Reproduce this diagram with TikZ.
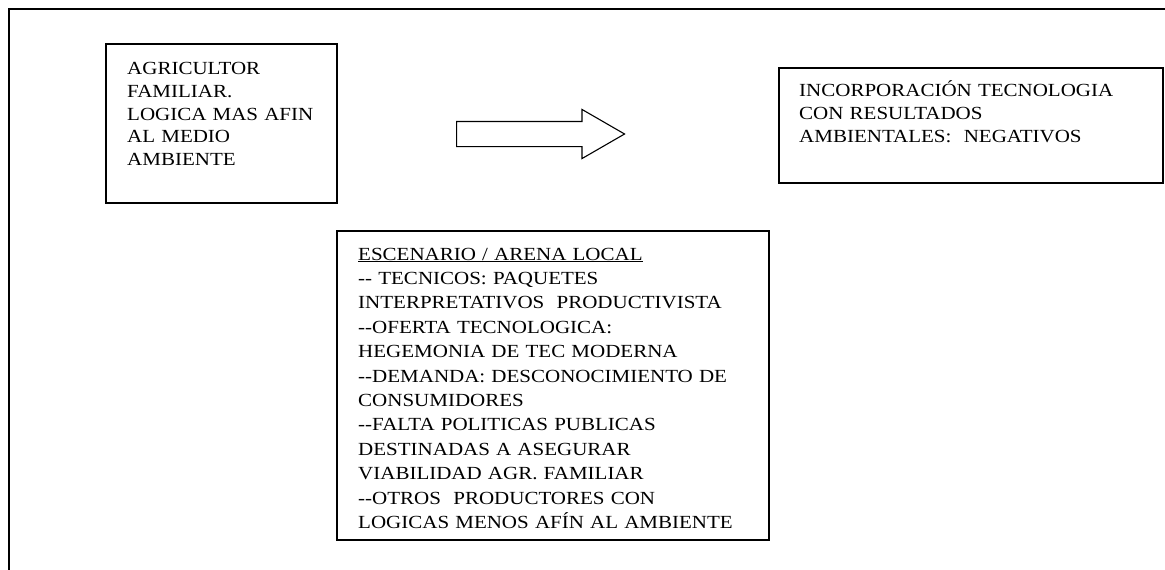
\documentclass[tikz,border=0pt]{standalone}
\usepackage{fontspec}
\setmainfont{Liberation Serif}[FakeStretch=1.135]
\usetikzlibrary{shapes.arrows}
\newcommand\rayas{\mbox{-}\mbox{-}}
\tikzset{
  caja/.style={draw, line width=1.5pt, inner sep=0pt, anchor=north west},
  texto/.style={anchor=base west, align=left, text width=420pt, inner sep=0pt,
    font=\fontsize{18.5}{23}\selectfont},
  flecha/.style={single arrow, draw, line width=1.1pt, inner xsep=0pt, inner ysep=12pt,
    anchor=tail, minimum height=168pt, single arrow head extend=12pt,
    single arrow tip angle=60},
}
\begin{document}
\begin{tikzpicture}[x=1pt,y=-1pt]
\useasboundingbox (0,0) rectangle (1165,570);
\draw[line width=2pt] (9,570) -- (9,9) -- (1165,9); % marco de la hoja
% cajas
\node[caja, minimum width=231pt, minimum height=159pt] (agricultor) at (105,43) {};
\node[caja, minimum width=384pt, minimum height=115pt] (resultado) at (778,67) {};
\node[caja, minimum width=432pt, minimum height=309pt] (escenario) at (336,230) {};
\node[texto] (agricultortxt) at ([shift={(22,31)}]agricultor.north west)
  {AGRICULTOR\\FAMILIAR.\\LOGICA MAS AFIN\\AL MEDIO\\AMBIENTE};
\node[texto] (resultadotxt) at ([shift={(21,29)}]resultado.north west)
  {INCORPORACIÓN TECNOLOGIA\\CON RESULTADOS\\AMBIENTALES:\ \ NEGATIVOS};
\node[texto, font=\fontsize{18.5}{24.4}\selectfont] (escenariotxt) at ([shift={(22,30)}]escenario.north west)
  {\underline{ESCENARIO / ARENA LOCAL}\\
   \rayas{} TECNICOS: PAQUETES\\
   INTERPRETATIVOS\ \ PRODUCTIVISTA\\
   \rayas OFERTA TECNOLOGICA:\\
   HEGEMONIA DE TEC MODERNA\\
   \rayas DEMANDA: DESCONOCIMIENTO DE\\
   CONSUMIDORES\\
   \rayas FALTA POLITICAS PUBLICAS\\
   DESTINADAS A ASEGURAR\\
   VIABILIDAD AGR. FAMILIAR\\
   \rayas OTROS\ \ PRODUCTORES CON\\
   LOGICAS MENOS AFÍN AL AMBIENTE};
% flecha de bloque
\node[flecha] (flecha) at (456,134) {};
\end{tikzpicture}
\end{document}
